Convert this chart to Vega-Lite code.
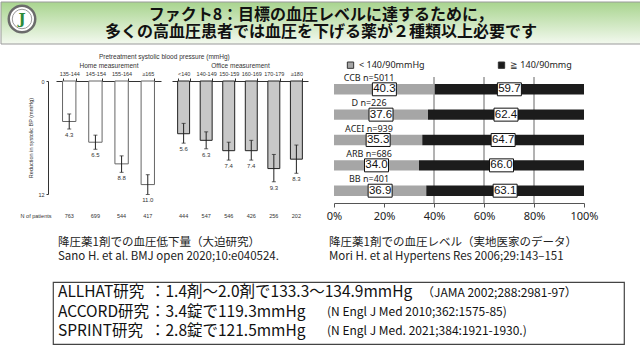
{
  "$schema": "https://vega.github.io/schema/vega-lite/v6.json",
  "padding": 0,
  "background": "white",
  "spacing": 0,
  "config": {
    "view": {"stroke": null},
    "concat": {"spacing": 0},
    "font": "Noto Sans CJK JP"
  },
  "vconcat": [
    {
      "width": 640,
      "height": 42,
      "layer": [
        {
          "data": {"values": [{"k": 1}]},
          "mark": {"type": "rect", "stroke": "#9a9a9a", "strokeWidth": 1,
            "fill": {"gradient": "linear", "x1": 0, "y1": 0, "x2": 0, "y2": 1,
              "stops": [{"offset": 0, "color": "#a8d48e"}, {"offset": 1, "color": "#f3f9ef"}]}},
          "encoding": {}
        },
        {
          "data": {"values": [{"k": 1}]},
          "mark": {"type": "point", "shape": "circle", "size": 700, "filled": true, "fill": "white", "stroke": "#6b6b6b", "strokeWidth": 2.5, "opacity": 1, "xOffset": -299, "yOffset": -4},
          "encoding": {}
        },
        {
          "data": {"values": [{"k": 1}]},
          "mark": {"type": "point", "shape": "circle", "size": 380, "filled": false, "stroke": "#9a9a9a", "strokeWidth": 1, "opacity": 1, "xOffset": -299, "yOffset": -4},
          "encoding": {}
        },
        {
          "data": {"values": [{"j": "J"}]},
          "mark": {"type": "text", "font": "DejaVu Serif", "fontWeight": "bold", "fontSize": 15, "color": "#2e8b3a", "dx": -299, "dy": -4},
          "encoding": {"text": {"field": "j"}}
        },
        {
          "data": {"values": [
            {"t": "ファクト8：目標の血圧レベルに達するために，\n多くの高血圧患者では血圧を下げる薬が２種類以上必要です"}
          ]},
          "mark": {"type": "text", "font": "Noto Sans CJK JP", "fontWeight": "bold", "fontSize": 16, "color": "#111", "lineBreak": "\n", "lineHeight": 17, "baseline": "middle", "dy": -8},
          "encoding": {"text": {"field": "t"}}
        }
      ]
    },
    {"width": 1, "height": 8, "data": {"values": []}, "mark": "point"},
    {
      "hconcat": [
        {"width": 19, "height": 1, "data": {"values": []}, "mark": "point"},
        {
          "vconcat": [
            {"width": 1, "height": 1, "data": {"values": []}, "mark": "point"},
            {
              "hconcat": [
                {
                  "width": 105,
                  "height": 113,
                  "data": {"values": [
                    {"cat": "135-144", "mean": 4.3, "lo": 3.5, "hi": 5.1, "n": 763},
                    {"cat": "145-154", "mean": 6.5, "lo": 5.75, "hi": 7.25, "n": 699},
                    {"cat": "155-164", "mean": 8.8, "lo": 7.95, "hi": 9.7, "n": 544},
                    {"cat": "≥165", "mean": 11.0, "lo": 9.95, "hi": 12.05, "n": 417}
                  ]},
                  "layer": [
                    {
                      "mark": {"type": "bar", "fill": "white", "stroke": "#666", "strokeWidth": 1},
                      "encoding": {
                        "x": {"field": "cat", "type": "nominal", "sort": null, "scale": {"paddingInner": 0.49, "paddingOuter": 0.25},
                          "axis": {"orient": "top", "title": "Home measurement", "titleFont": "Liberation Sans", "titleFontSize": 6.5, "titleFontWeight": "normal", "titleColor": "#333", "titlePadding": 2.5, "labelFont": "Liberation Sans", "labelFontSize": 5.5, "labelColor": "#333", "labelAngle": 0, "labelPadding": 2, "tickBand": "extent", "tickSize": 3, "tickColor": "#333", "domainColor": "#333"}},
                        "y": {"field": "mean", "type": "quantitative", "scale": {"domain": [0, 12], "reverse": true, "nice": false},
                          "axis": {"title": "Reduction in systolic BP (mmHg)", "values": [0, 2, 4, 6, 8, 10, 12], "offset": 8, "grid": false, "labelFont": "Liberation Sans", "labelFontSize": 5.5, "labelColor": "#333", "titleFont": "Liberation Sans", "titleFontSize": 5.5, "titleFontWeight": "normal", "titleColor": "#333", "titlePadding": 4, "labelPadding": 2, "tickSize": 2, "tickColor": "#333", "domainColor": "#333"}}
                      }
                    },
                    {
                      "mark": {"type": "rule", "color": "#222", "strokeWidth": 1},
                      "encoding": {
                        "x": {"field": "cat", "type": "nominal", "sort": null},
                        "y": {"field": "lo", "type": "quantitative"},
                        "y2": {"field": "hi"}
                      }
                    },
                    {
                      "mark": {"type": "tick", "color": "#222", "size": 4, "thickness": 1},
                      "encoding": {
                        "x": {"field": "cat", "type": "nominal", "sort": null},
                        "y": {"field": "lo", "type": "quantitative"}
                      }
                    },
                    {
                      "mark": {"type": "tick", "color": "#222", "size": 4, "thickness": 1},
                      "encoding": {
                        "x": {"field": "cat", "type": "nominal", "sort": null},
                        "y": {"field": "hi", "type": "quantitative"}
                      }
                    },
                    {
                      "mark": {"type": "text", "font": "Liberation Sans", "fontSize": 6, "color": "#333", "baseline": "top", "dy": 3},
                      "encoding": {
                        "x": {"field": "cat", "type": "nominal", "sort": null},
                        "y": {"field": "hi", "type": "quantitative"},
                        "text": {"field": "mean", "type": "quantitative", "format": ".1f"}
                      }
                    },
                    {
                      "mark": {"type": "text", "font": "Liberation Sans", "fontSize": 5.5, "color": "#333"},
                      "encoding": {
                        "x": {"field": "cat", "type": "nominal", "sort": null},
                        "y": {"datum": 14.3, "type": "quantitative"},
                        "text": {"field": "n", "type": "quantitative"}
                      }
                    },
                    {
                      "data": {"values": [{"t": "N of patients"}]},
                      "mark": {"type": "text", "font": "Liberation Sans", "fontSize": 5.5, "color": "#333", "align": "right", "dx": -57},
                      "encoding": {
                        "y": {"datum": 14.3, "type": "quantitative"},
                        "text": {"field": "t"}
                      }
                    }
                  ]
                },
                {
                  "width": 136,
                  "height": 113,
                  "data": {"values": [
                    {"cat": "<140", "mean": 5.6, "lo": 4.5, "hi": 6.6, "n": 444},
                    {"cat": "140-149", "mean": 6.3, "lo": 5.4, "hi": 7.2, "n": 547},
                    {"cat": "150-159", "mean": 7.4, "lo": 6.5, "hi": 8.4, "n": 546},
                    {"cat": "160-169", "mean": 7.4, "lo": 6.3, "hi": 8.4, "n": 426},
                    {"cat": "170-179", "mean": 9.3, "lo": 7.8, "hi": 10.7, "n": 256},
                    {"cat": "≥180", "mean": 8.3, "lo": 6.8, "hi": 9.8, "n": 202}
                  ]},
                  "layer": [
                    {
                      "mark": {"type": "bar", "fill": "#c8c8c8", "stroke": "#222", "strokeWidth": 1},
                      "encoding": {
                        "x": {"field": "cat", "type": "nominal", "sort": null, "scale": {"paddingInner": 0.47, "paddingOuter": 0.25},
                          "axis": {"orient": "top", "title": "Office measurement", "titleFont": "Liberation Sans", "titleFontSize": 6.5, "titleFontWeight": "normal", "titleColor": "#333", "titlePadding": 2.5, "labelFont": "Liberation Sans", "labelFontSize": 5.5, "labelColor": "#333", "labelAngle": 0, "labelPadding": 2, "tickBand": "extent", "tickSize": 3, "tickColor": "#333", "domainColor": "#333"}},
                        "y": {"field": "mean", "type": "quantitative", "scale": {"domain": [0, 12], "reverse": true, "nice": false}, "axis": null}
                      }
                    },
                    {
                      "mark": {"type": "rule", "color": "#222", "strokeWidth": 1},
                      "encoding": {
                        "x": {"field": "cat", "type": "nominal", "sort": null},
                        "y": {"field": "lo", "type": "quantitative", "axis": null},
                        "y2": {"field": "hi"}
                      }
                    },
                    {
                      "mark": {"type": "tick", "color": "#222", "size": 4, "thickness": 1},
                      "encoding": {
                        "x": {"field": "cat", "type": "nominal", "sort": null},
                        "y": {"field": "lo", "type": "quantitative", "axis": null}
                      }
                    },
                    {
                      "mark": {"type": "tick", "color": "#222", "size": 4, "thickness": 1},
                      "encoding": {
                        "x": {"field": "cat", "type": "nominal", "sort": null},
                        "y": {"field": "hi", "type": "quantitative", "axis": null}
                      }
                    },
                    {
                      "mark": {"type": "text", "font": "Liberation Sans", "fontSize": 6, "color": "#333", "baseline": "top", "dy": 3},
                      "encoding": {
                        "x": {"field": "cat", "type": "nominal", "sort": null},
                        "y": {"field": "hi", "type": "quantitative", "axis": null},
                        "text": {"field": "mean", "type": "quantitative", "format": ".1f"}
                      }
                    },
                    {
                      "mark": {"type": "text", "font": "Liberation Sans", "fontSize": 5.5, "color": "#333"},
                      "encoding": {
                        "x": {"field": "cat", "type": "nominal", "sort": null},
                        "y": {"datum": 14.3, "type": "quantitative", "axis": null},
                        "text": {"field": "n", "type": "quantitative"}
                      }
                    }
                  ]
                }
              ],
              "spacing": 11,
              "title": {"text": "Pretreatment systolic blood pressure (mmHg)", "font": "Liberation Sans", "fontSize": 6.5, "fontWeight": "normal", "color": "#333", "anchor": "middle", "offset": 2}
            }
          ]
        },
        {"width": 18, "height": 1, "data": {"values": []}, "mark": "point"},
        {
          "vconcat": [
            {"width": 1, "height": 20, "data": {"values": []}, "mark": "point"},
            {
              "width": 250,
              "height": 126,
              "data": {"values": [
                {"drug": "CCB", "lab": "CCB  n=5011", "grp": "< 140/90mmHg", "pct": 40.3},
                {"drug": "CCB", "lab": "CCB  n=5011", "grp": "≧ 140/90mmg", "pct": 59.7},
                {"drug": "D", "lab": "D  n=226", "grp": "< 140/90mmHg", "pct": 37.6},
                {"drug": "D", "lab": "D  n=226", "grp": "≧ 140/90mmg", "pct": 62.4},
                {"drug": "ACEI", "lab": "ACEI  n=939", "grp": "< 140/90mmHg", "pct": 35.3},
                {"drug": "ACEI", "lab": "ACEI  n=939", "grp": "≧ 140/90mmg", "pct": 64.7},
                {"drug": "ARB", "lab": "ARB  n=686", "grp": "< 140/90mmHg", "pct": 34.0},
                {"drug": "ARB", "lab": "ARB  n=686", "grp": "≧ 140/90mmg", "pct": 66.0},
                {"drug": "BB", "lab": "BB  n=401", "grp": "< 140/90mmHg", "pct": 36.9},
                {"drug": "BB", "lab": "BB  n=401", "grp": "≧ 140/90mmg", "pct": 63.1}
              ]},
              "transform": [
                {"stack": "pct", "groupby": ["drug"], "sort": [{"field": "grp", "order": "ascending"}], "as": ["p0", "p1"]},
                {"calculate": "(datum.p0 + datum.p1) / 2", "as": "pm"}
              ],
              "layer": [
                {
                  "data": {"values": [{"g": 40}, {"g": 60}, {"g": 80}]},
                  "mark": {"type": "rule", "color": "#666", "strokeWidth": 1},
                  "encoding": {
                    "x": {"field": "g", "type": "quantitative", "scale": {"domain": [0, 100], "nice": false},
                      "axis": {"title": null, "values": [0, 20, 40, 60, 80, 100], "labelExpr": "datum.value + '%'", "grid": false, "labelFlush": false, "labelFont": "Noto Sans", "labelFontSize": 11, "labelColor": "#222", "labelPadding": 3, "tickSize": 4, "tickColor": "#555", "domainColor": "#555"}}
                  }
                },
                {
                  "mark": {"type": "bar", "stroke": null},
                  "encoding": {
                    "y": {"field": "drug", "type": "nominal", "sort": ["CCB", "D", "ACEI", "ARB", "BB"], "axis": null, "scale": {"paddingInner": 0.59, "paddingOuter": 0.28}},
                    "x": {"field": "p0", "type": "quantitative", "scale": {"domain": [0, 100], "nice": false},
                      "axis": {"title": null, "values": [0, 20, 40, 60, 80, 100], "labelExpr": "datum.value + '%'", "grid": false, "labelFlush": false, "labelFont": "Noto Sans", "labelFontSize": 11, "labelColor": "#222", "labelPadding": 3, "tickSize": 4, "tickColor": "#555", "domainColor": "#555"}},
                    "x2": {"field": "p1"},
                    "color": {"field": "grp", "type": "nominal",
                      "scale": {"domain": ["< 140/90mmHg", "≧ 140/90mmg"], "range": ["#a6a6a6", "#1c1c1c"]},
                      "legend": {"title": null, "orient": "none", "legendX": 345, "legendY": 58.5, "direction": "horizontal", "symbolType": "square", "symbolSize": 40, "symbolStrokeColor": "#333", "symbolStrokeWidth": 1, "labelFont": "Noto Sans", "labelFontSize": 9, "labelColor": "#222", "columnPadding": 71}}
                  }
                },
                {
                  "mark": {"type": "point", "shape": "M-1,-0.54H1V0.54H-1Z", "size": 576, "filled": true, "fill": "white", "stroke": "#111", "strokeWidth": 1, "opacity": 1},
                  "encoding": {
                    "y": {"field": "drug", "type": "nominal", "sort": ["CCB", "D", "ACEI", "ARB", "BB"], "axis": null},
                    "x": {"field": "pm", "type": "quantitative"}
                  }
                },
                {
                  "mark": {"type": "text", "font": "Liberation Sans", "fontSize": 11.5, "color": "#111"},
                  "encoding": {
                    "y": {"field": "drug", "type": "nominal", "sort": ["CCB", "D", "ACEI", "ARB", "BB"], "axis": null},
                    "x": {"field": "pm", "type": "quantitative"},
                    "text": {"field": "pct", "type": "quantitative", "format": ".1f"}
                  }
                },
                {
                  "transform": [{"filter": "datum.grp === '< 140/90mmHg'"}],
                  "mark": {"type": "text", "font": "Noto Sans", "fontSize": 9, "color": "#222", "dy": -11.5},
                  "encoding": {
                    "y": {"field": "drug", "type": "nominal", "sort": ["CCB", "D", "ACEI", "ARB", "BB"], "axis": null},
                    "x": {"datum": 14, "type": "quantitative"},
                    "text": {"field": "lab"}
                  }
                }
              ]
            }
          ]
        }
      ]
    },
    {
      "hconcat": [
        {"width": 57, "height": 1, "data": {"values": []}, "mark": "point"},
        {
          "width": 260,
          "height": 40,
          "data": {"values": [{"t": "降圧薬1剤での血圧低下量（大迫研究）\nSano H. et al. BMJ open 2020;10:e040524."}]},
          "mark": {"type": "text", "align": "left", "baseline": "middle", "dx": -130, "dy": 2, "font": "Noto Sans CJK JP", "fontSize": 11.5, "lineBreak": "\n", "lineHeight": 13.5, "color": "#222"},
          "encoding": {"text": {"field": "t"}}
        },
        {"width": 11, "height": 1, "data": {"values": []}, "mark": "point"},
        {
          "width": 280,
          "height": 40,
          "data": {"values": [{"t": "降圧薬1剤での血圧レベル（実地医家のデータ）\nMori H. et al Hypertens Res 2006;29:143–151"}]},
          "mark": {"type": "text", "align": "left", "baseline": "middle", "dx": -140, "dy": 2, "font": "Noto Sans CJK JP", "fontSize": 11.5, "lineBreak": "\n", "lineHeight": 13.5, "color": "#222"},
          "encoding": {"text": {"field": "t"}}
        }
      ]
    },
    {"width": 1, "height": 19, "data": {"values": []}, "mark": "point"},
    {
      "hconcat": [
        {"width": 51, "height": 1, "data": {"values": []}, "mark": "point"},
        {
          "width": 571,
          "height": 62,
          "view": {"stroke": "#444", "strokeWidth": 1.2},
          "data": {"values": [
            {"r": 1, "name": "ALLHAT研究", "res": "：1.4剤～2.0剤で133.3～134.9mmHg", "ref": "（JAMA 2002;288:2981-97）"},
            {"r": 2, "name": "ACCORD研究", "res": "：3.4錠で119.3mmHg", "ref": "(N Engl J Med 2010;362:1575-85)"},
            {"r": 3, "name": "SPRINT研究", "res": "：2.8錠で121.5mmHg", "ref": "(N Engl J Med. 2021;384:1921-1930.)"}
          ]},
          "encoding": {
            "y": {"field": "r", "type": "ordinal", "axis": null, "scale": {"type": "point", "padding": 0.6}}
          },
          "layer": [
            {
              "mark": {"type": "text", "align": "left", "dx": -280.5, "dy": -1.5, "font": "Noto Sans CJK JP", "fontSize": 15.5, "color": "#111"},
              "encoding": {"text": {"field": "name"}}
            },
            {
              "mark": {"type": "text", "align": "left", "dx": -188.5, "dy": -1.5, "font": "Noto Sans CJK JP", "fontSize": 15.5, "color": "#111"},
              "encoding": {"text": {"field": "res"}}
            },
            {
              "transform": [{"filter": "datum.r === 1"}],
              "mark": {"type": "text", "align": "left", "dx": 83.5, "dy": -1, "font": "Noto Sans CJK JP", "fontSize": 12, "color": "#111"},
              "encoding": {"text": {"field": "ref"}}
            },
            {
              "transform": [{"filter": "datum.r > 1"}],
              "mark": {"type": "text", "align": "left", "dx": -11.5, "dy": -1, "font": "Noto Sans CJK JP", "fontSize": 12, "color": "#111"},
              "encoding": {"text": {"field": "ref"}}
            }
          ]
        }
      ]
    }
  ]
}
